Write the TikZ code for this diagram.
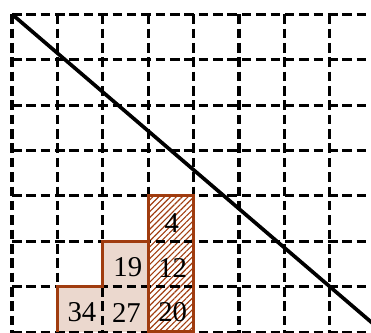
\documentclass[tikz,border=0pt]{standalone}
\usepackage{fontspec}
\setmainfont{Liberation Serif}
\usetikzlibrary{patterns.meta}
\definecolor{brd}{RGB}{160,60,15}
\definecolor{lite}{RGB}{235,216,206}
\begin{document}
\begin{tikzpicture}[
  gridline/.style={line width=1.9pt, dash pattern=on 6pt off 3pt},
  edgeline/.style={draw=brd, line width=2pt},
  diagline/.style={line width=2.3pt},
  num/.style={font=\fontsize{18}{20}\selectfont, inner sep=0pt}
]
\useasboundingbox (-0.264,0) rectangle (7.907,7.313);
\clip (-0.264,0) rectangle (7.907,7.313);
% fills
\fill[lite] (1,0) -- (1,1) -- (2,1) -- (2,2) -- (3,2) -- (3,0) -- cycle;
\fill[pattern={Lines[angle=45,distance=2.6pt,line width=0.7pt]}, pattern color=brd] (3,0) rectangle (4,3);
% grid
\foreach \x in {0,...,7} \draw[gridline] (\x,7) -- (\x,-0.5);
\foreach \y in {0,...,7} \draw[gridline] (0,\y) -- (8.5,\y);
% outlines
\draw[edgeline] (1,0) -- (1,1) -- (2,1) -- (2,2) -- (3,2) -- (3,0);
\draw[edgeline] (3,0) rectangle (4,3);
% diagonal
\coordinate (dstart) at (0,7);
\coordinate (dend) at (8.1667,0);
\draw[diagline] (dstart) -- (dend);
% numbers
\node[num] (n34) at (1.54,0.43) {34};
\node[num] (n27) at (2.52,0.43) {27};
\node[num] (n19) at (2.55,1.42) {19};
\node[num] (n12) at (3.54,1.42) {12};
\node[num] (n20) at (3.54,0.43) {20};
\node[num] (n4)  at (3.52,2.41) {4};
\end{tikzpicture}
\end{document}
